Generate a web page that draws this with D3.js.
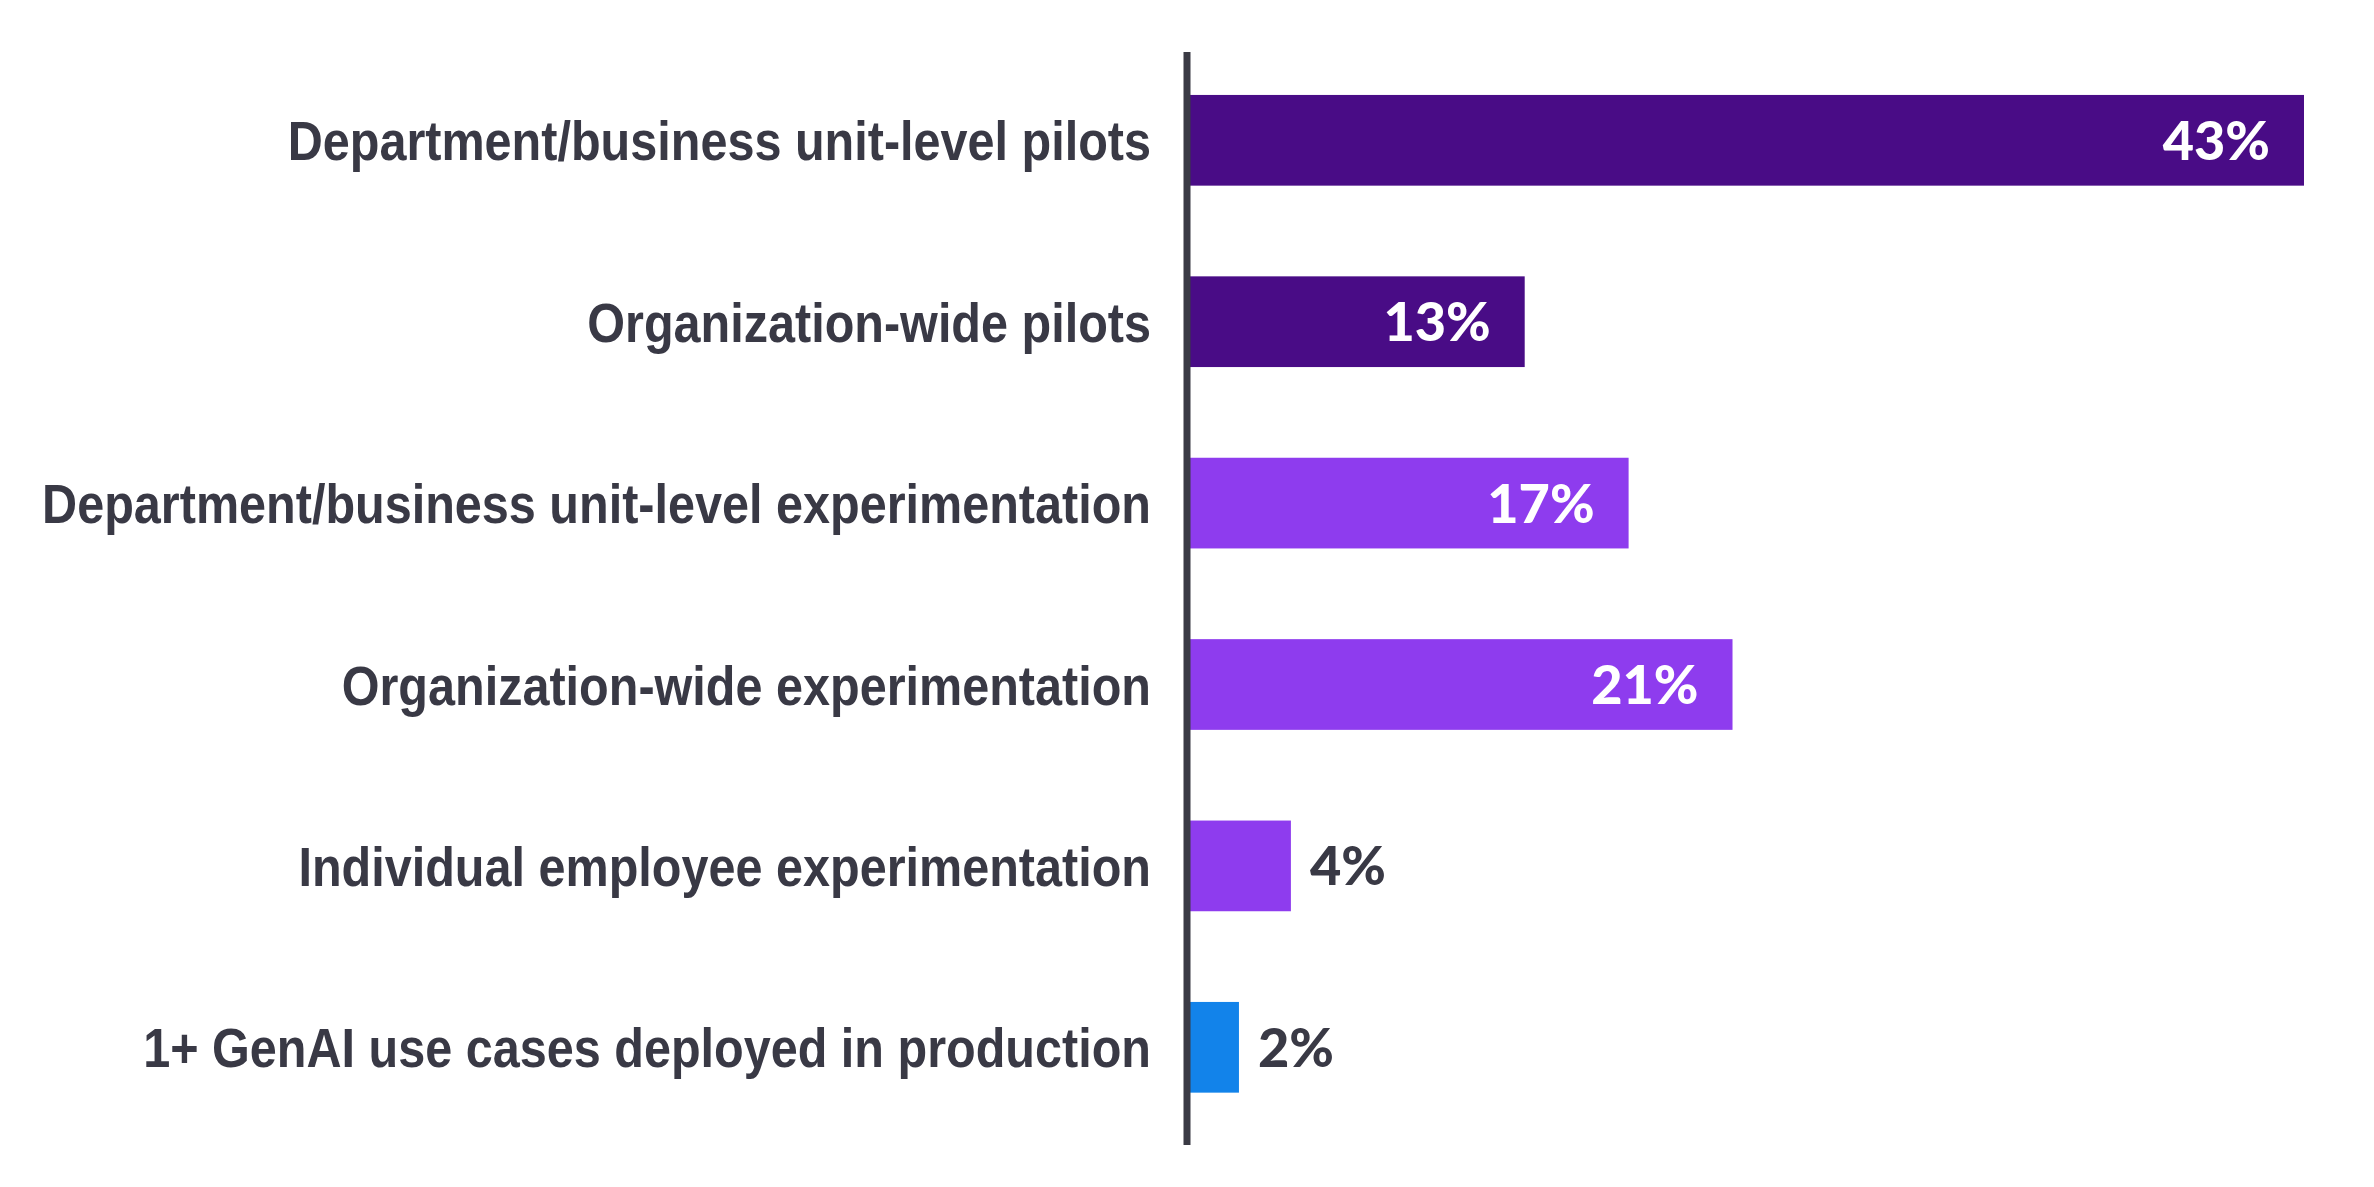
<!DOCTYPE html>
<html>
<head>
<meta charset="utf-8">
<script src="https://cdn.jsdelivr.net/npm/d3@7/dist/d3.min.js"></script>
<style>
  html, body { margin: 0; padding: 0; background: #ffffff; }
  svg { display: block; }
</style>
</head>
<body>
<svg id="chart" width="2374" height="1187"></svg>
<script>
const categories = [
  "Department/business unit-level pilots",
  "Organization-wide pilots",
  "Department/business unit-level experimentation",
  "Organization-wide experimentation",
  "Individual employee experimentation",
  "1+ GenAI use cases deployed in production"
];
const values = [43, 13, 17, 21, 4, 2];
const groups = ["pilot", "pilot", "experiment", "experiment", "experiment", "production"];
const valueLabels = ["43%", "13%", "17%", "21%", "4%", "2%"];
const insideLabel = [true, true, true, true, false, false];

const colorMap = { pilot: "#490c86", experiment: "#8e3cee", production: "#1283ea" };
const textColor = "#393945";

const W = 2374, H = 1187;
const axisX = 1187;
const svg = d3.select("#chart");

const x = d3.scaleLinear().domain([0, 43]).range([axisX, 2304]);
const y = d3.scaleBand().domain(categories).range([49.6, 1138]).paddingInner(0.5).paddingOuter(0.25);

// bars
svg.append("g").selectAll("rect").data(categories).join("rect")
  .attr("x", x(0))
  .attr("y", d => y(d))
  .attr("width", (d, i) => x(values[i]) - x(0))
  .attr("height", y.bandwidth())
  .attr("fill", (d, i) => colorMap[groups[i]]);

// axis line
svg.append("line")
  .attr("x1", axisX).attr("x2", axisX)
  .attr("y1", 52).attr("y2", 1145)
  .attr("stroke", "#3a3a44").attr("stroke-width", 7);

// category labels (condensed bold)
const labelFont = "'Liberation Sans', Arial, sans-serif";
const labelG = svg.append("g");
const labels = labelG.selectAll("text").data(categories).join("text")
  .attr("text-anchor", "end")
  .attr("x", 0).attr("y", 0)
  .attr("dy", "0.36em")
  .style("font-family", labelFont)
  .style("font-weight", "700")
  .style("font-size", "56px")
  .style("fill", textColor)
  .text(d => d);
let maxW = 0;
labels.each(function() { maxW = Math.max(maxW, this.getComputedTextLength()); });
const targetW = 1109;
const sx = maxW > 0 ? targetW / maxW : 1;
labels.attr("transform", d => `translate(1151,${y(d) + y.bandwidth() / 2}) scale(${sx},1)`);

// value labels
svg.append("g").selectAll("text").data(categories).join("text")
  .attr("x", (d, i) => insideLabel[i] ? x(values[i]) - 34 : x(values[i]) + 19)
  .attr("y", d => y(d) + y.bandwidth() / 2)
  .attr("dy", "0.36em")
  .attr("text-anchor", (d, i) => insideLabel[i] ? "end" : "start")
  .style("font-family", "Lato, 'Open Sans', sans-serif")
  .style("font-weight", "900")
  .style("font-size", "54px")
  .style("fill", (d, i) => insideLabel[i] ? "#ffffff" : textColor)
  .text((d, i) => valueLabels[i]);
</script>
</body>
</html>
